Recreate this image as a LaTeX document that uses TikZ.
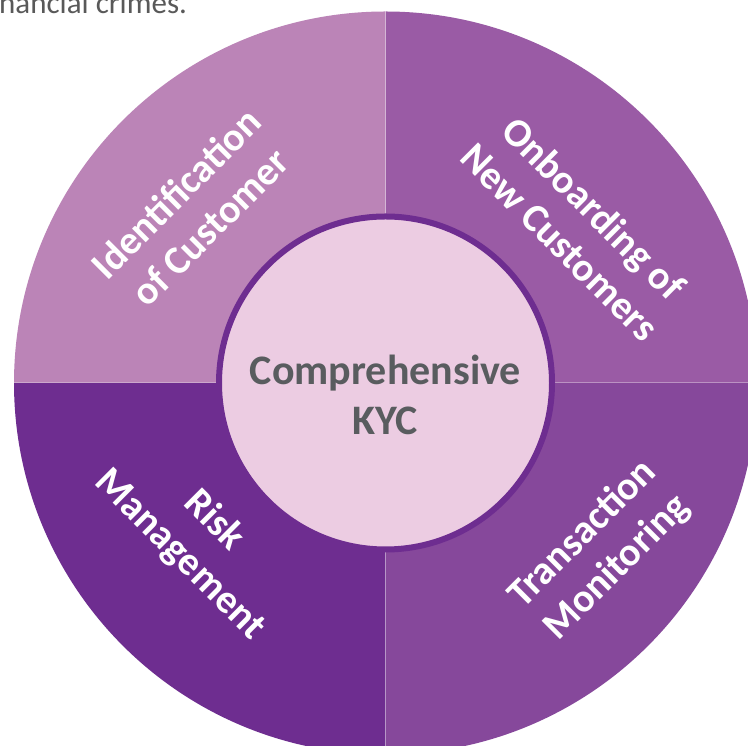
\documentclass[tikz,border=0pt]{standalone}
\usepackage{fontspec}
\setmainfont{Carlito}
\usepackage{xcolor}
\usepackage{tikz}
\usetikzlibrary{positioning}
\definecolor{quadTL}{HTML}{BB84B7}
\definecolor{quadTR}{HTML}{9A5BA5}
\definecolor{quadBR}{HTML}{86489B}
\definecolor{quadBL}{HTML}{6E2D90}
\definecolor{hubfill}{HTML}{ECCCE2}
\definecolor{hubtext}{HTML}{595C5F}
\definecolor{bodytext}{HTML}{595959}
\tikzstyle{lbl}=[text=white, align=center, font=\fontsize{40}{48}\selectfont\bfseries, inner sep=0pt]
\tikzstyle{sep}=[draw=white, draw opacity=0.35, line width=1pt]

\begin{document}
\begin{tikzpicture}[x=1pt,y=1pt,
  hub/.style={circle,draw=quadBL,line width=6pt,fill=hubfill,minimum size=333pt,
    text=hubtext,align=center,font=\fontsize{42}{50}\selectfont\bfseries}]
\clip (0,0) rectangle (748,746);
\fill[white] (0,0) rectangle (748,746);
\coordinate (c) at (385.5,363);
\fill[quadTL] (c) -- ++(180:371.5) arc[start angle=180,end angle=90,radius=371.5] -- cycle;
\fill[quadTR] (c) -- ++(90:371.5) arc[start angle=90,end angle=0,radius=371.5] -- cycle;
\fill[quadBR] (c) -- ++(0:371.5) arc[start angle=0,end angle=-90,radius=371.5] -- cycle;
\fill[quadBL] (c) -- ++(-90:371.5) arc[start angle=-90,end angle=-180,radius=371.5] -- cycle;
\draw[sep] (c) -- ++(90:371.5); \draw[sep] (c) -- ++(0:371.5);
\draw[sep] (c) -- ++(-90:371.5); \draw[sep] (c) -- ++(180:371.5);
\node[hub] (kyc) at (c) {};
\node[text=hubtext,align=center,font=\fontsize{42}{50}\selectfont\bfseries] (kyctxt) at (385.5,351) {Comprehensive\\KYC};
\node[lbl,rotate=45] (ident) at (193,536) {Identification\\of Customer};
\node[lbl,rotate=-45] (onboard) at (577,521) {Onboarding of\\New Customers};
\node[lbl,rotate=-45] (risk) at (197,208) {Risk\\Management};
\node[lbl,rotate=45] (trans) at (600,195) {Transaction\\Monitoring};
\node[anchor=base west,text=bodytext,font=\fontsize{31}{37}\selectfont,inner sep=0pt] (crimes) at (-1,732) {nancial crimes.};
\end{tikzpicture}
\end{document}
